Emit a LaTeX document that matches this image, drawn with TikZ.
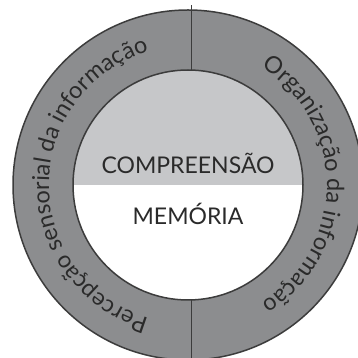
\documentclass[tikz,border=0pt]{standalone}
\usepackage{fontspec}
\setmainfont{Lato}
\usetikzlibrary{decorations.text}
\definecolor{anel}{HTML}{8C8D8F}
\definecolor{claro}{HTML}{C6C7C9}
\definecolor{borda}{HTML}{3C3C3C}
\definecolor{letra}{HTML}{2A2A2A}
\newcommand{\anelfont}{\fontsize{23.5}{23.5}\selectfont\color{letra}}
\tikzset{
  texto anel/.style={decorate, decoration={text along path, text align=center,
      text={|\anelfont|#1}}},
  centro/.style={anchor=base, text=letra, font=\fontsize{23}{23}\selectfont}
}
\begin{document}
\begin{tikzpicture}[x=1pt,y=1pt]
\useasboundingbox (0,0) rectangle (358,358);
\clip (0,0) rectangle (358,358);
\coordinate (O) at (188,173);
% anel externo
\filldraw[fill=anel, draw=borda, line width=1.5pt] (O) circle (175pt);
% circulo interno
\fill[white] (O) circle (115pt);
\fill[claro] (O) ++(-115pt,0) arc[start angle=180, end angle=0, radius=115pt] -- cycle;
\draw[borda, line width=1.5pt] (O) circle (115pt);
% divisoes
\draw[borda, line width=1pt] ([xshift=3pt,yshift=115pt]O) -- ([xshift=3pt,yshift=180pt]O);
\draw[borda, line width=1pt] ([xshift=3pt,yshift=-115pt]O) -- ([xshift=3pt,yshift=-180pt]O);
% textos
\node[centro] (comp) at ([yshift=11pt]O) {COMPREENSÃO};
\node[centro] (mem) at ([yshift=-40pt]O) {MEMÓRIA};
\path[texto anel={Percepção sensorial da informação}]
  (O) ++(270:139pt) arc[start angle=270, end angle=90, radius=139pt];
\path[texto anel={Organização da informação}]
  (O) ++(90:139pt) arc[start angle=90, end angle=-90, radius=139pt];
\end{tikzpicture}
\end{document}
